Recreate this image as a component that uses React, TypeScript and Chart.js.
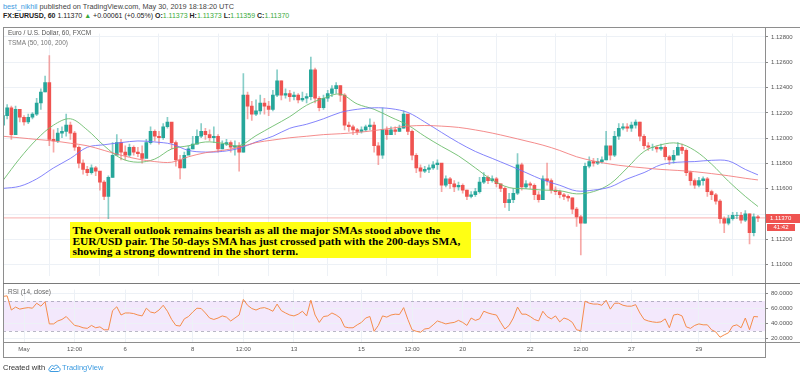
import React, { useEffect, useRef } from "react";
import { Chart, registerables } from "chart.js";
Chart.register(...registerables);

// ---- time axis (trading hours from May 1 00:00, weekends removed) ----
const FIRST_HOUR = -15;
const BAR_HOURS = 3;
const X_MIN = -14.94;
const X_MAX = 527;
const tickHours = [0, 36, 72, 120, 156, 192, 240, 276, 312, 360, 396, 432, 480];
const tickLabels = ["May", "12:00", "6", "8", "12:00", "13", "15", "12:00", "20", "22", "12:00", "27", "29"];

// ---- price data (3-hour candles) ----
const firstOpen = 1.12103;
const closes = [
  1.12178, 1.1224, 1.12028, 1.12228, 1.12165, 1.12128, 1.12165, 1.1219, 1.12278, 1.12365,
  1.1244, 1.1199, 1.11978, 1.1204, 1.12053, 1.12103, 1.1204, 1.11928, 1.11803, 1.11753,
  1.11728, 1.11765, 1.1174, 1.11653, 1.1154, 1.1169, 1.11865, 1.11965, 1.1189, 1.11865,
  1.11928, 1.1189, 1.11878, 1.1184, 1.11965, 1.12053, 1.12015, 1.12003, 1.1209, 1.12128,
  1.11965, 1.11828, 1.11765, 1.11865, 1.11915, 1.11953, 1.12015, 1.12053, 1.12028, 1.12003,
  1.12015, 1.11915, 1.11953, 1.11965, 1.11928, 1.1194, 1.1189, 1.1234, 1.12253, 1.1219,
  1.12215, 1.12278, 1.12253, 1.12228, 1.1234, 1.12453, 1.1234, 1.12353, 1.12328, 1.1234,
  1.12303, 1.12315, 1.12328, 1.1254, 1.12315, 1.1224, 1.12315, 1.12353, 1.1239, 1.12415,
  1.1234, 1.12103, 1.1209, 1.12065, 1.12053, 1.12065, 1.1209, 1.12103, 1.1194, 1.11865,
  1.12065, 1.12028, 1.12065, 1.12053, 1.12078, 1.1219, 1.12053, 1.11865, 1.11765, 1.1174,
  1.11753, 1.11765, 1.1179, 1.11803, 1.11628, 1.11678, 1.1164, 1.11615, 1.11628, 1.1159,
  1.1154, 1.11553, 1.11578, 1.11653, 1.1169, 1.11665, 1.11678, 1.1164, 1.11603, 1.1149,
  1.11515, 1.11565, 1.1179, 1.11615, 1.1164, 1.11628, 1.11553, 1.11515, 1.11678, 1.11665,
  1.1159, 1.11578, 1.11553, 1.1154, 1.11528, 1.1144, 1.11378, 1.11328, 1.11778, 1.11815,
  1.11803, 1.11815, 1.11828, 1.1194, 1.11865, 1.12015, 1.12078, 1.1209, 1.12078, 1.12103,
  1.12128, 1.12015, 1.1194, 1.11928, 1.11928, 1.11915, 1.11928, 1.11853, 1.11828, 1.11865,
  1.11928, 1.11903, 1.11728, 1.11665, 1.11628, 1.11665, 1.11678, 1.11578, 1.11553, 1.11503,
  1.11365, 1.11328, 1.11365, 1.1139, 1.1139, 1.11353, 1.11403, 1.11253, 1.11378, 1.1137,
];
const highs = [
  1.12203, 1.12265, 1.12253, 1.12253, 1.12203, 1.12178, 1.1219, 1.12203, 1.12315, 1.1239,
  1.1249, 1.12653, 1.12065, 1.12078, 1.1209, 1.1219, 1.12128, 1.12053, 1.1194, 1.11828,
  1.11778, 1.1179, 1.11778, 1.11728, 1.11665, 1.11703, 1.11965, 1.12028, 1.1199, 1.1194,
  1.11953, 1.1194, 1.11928, 1.1194, 1.1199, 1.1209, 1.12065, 1.12053, 1.12115, 1.12165,
  1.12115, 1.11978, 1.11865, 1.1189, 1.1194, 1.12015, 1.12065, 1.12115, 1.12078, 1.12065,
  1.1209, 1.12028, 1.11978, 1.1199, 1.11978, 1.11978, 1.11965, 1.1251, 1.12365, 1.1229,
  1.12303, 1.1234, 1.12315, 1.1229, 1.12378, 1.1254, 1.12453, 1.1239, 1.12378, 1.12365,
  1.12353, 1.12365, 1.12353, 1.1264, 1.12553, 1.12328, 1.1234, 1.12378, 1.12415, 1.1244,
  1.12415, 1.12353, 1.12128, 1.12103, 1.12078, 1.1209, 1.12103, 1.12153, 1.12128, 1.11965,
  1.1224, 1.1209, 1.1209, 1.1209, 1.12103, 1.12215, 1.12178, 1.12065, 1.11878, 1.1179,
  1.11778, 1.1179, 1.11815, 1.11828, 1.1179, 1.11703, 1.1169, 1.11665, 1.11653, 1.1164,
  1.1159, 1.11578, 1.11603, 1.1169, 1.11728, 1.11703, 1.11703, 1.1169, 1.1164, 1.11615,
  1.11565, 1.11603, 1.11878, 1.11803, 1.11665, 1.11653, 1.1164, 1.11578, 1.11703, 1.11803,
  1.11678, 1.11615, 1.1159, 1.11565, 1.11553, 1.11528, 1.11453, 1.1139, 1.11803, 1.11853,
  1.1184, 1.1184, 1.11853, 1.12053, 1.11928, 1.12053, 1.12115, 1.12115, 1.12115, 1.12128,
  1.12145, 1.12128, 1.12028, 1.11965, 1.11953, 1.1194, 1.11953, 1.1194, 1.11865, 1.11903,
  1.11965, 1.11953, 1.11915, 1.1174, 1.11678, 1.1169, 1.11695, 1.1169, 1.1159, 1.11565,
  1.11515, 1.11378, 1.1139, 1.11415, 1.11415, 1.11415, 1.11428, 1.11403, 1.11403, 1.1139,
];
const lows = [
  1.1209, 1.12153, 1.1199, 1.12028, 1.12128, 1.12103, 1.12115, 1.12153, 1.12178, 1.12228,
  1.12365, 1.1194, 1.1189, 1.11965, 1.12003, 1.12015, 1.1199, 1.11903, 1.11765, 1.11715,
  1.11703, 1.11715, 1.11703, 1.1159, 1.11515, 1.11365, 1.1169, 1.11865, 1.11828, 1.11828,
  1.11853, 1.11865, 1.11853, 1.11803, 1.11865, 1.11953, 1.11978, 1.11953, 1.1199, 1.12078,
  1.11915, 1.11778, 1.11678, 1.11765, 1.11878, 1.11915, 1.11953, 1.12003, 1.1199, 1.11978,
  1.11965, 1.1189, 1.11915, 1.1194, 1.1189, 1.11865, 1.1174, 1.1189, 1.12153, 1.1214,
  1.12178, 1.1219, 1.1219, 1.12178, 1.12215, 1.12328, 1.12303, 1.12315, 1.1229, 1.12303,
  1.12278, 1.1229, 1.12278, 1.12303, 1.12278, 1.12215, 1.12228, 1.1229, 1.12328, 1.12353,
  1.1229, 1.12065, 1.12053, 1.12028, 1.12028, 1.1204, 1.12053, 1.12065, 1.1189, 1.1179,
  1.1184, 1.1199, 1.12028, 1.12028, 1.12053, 1.12078, 1.12028, 1.11828, 1.11728, 1.1169,
  1.11728, 1.11728, 1.11753, 1.11753, 1.11578, 1.11615, 1.11603, 1.11578, 1.1159, 1.11565,
  1.11515, 1.11528, 1.1154, 1.11565, 1.1164, 1.1164, 1.11653, 1.11615, 1.11578, 1.11453,
  1.11428, 1.1149, 1.11553, 1.1159, 1.11603, 1.11603, 1.11515, 1.11495, 1.11515, 1.11628,
  1.11565, 1.11553, 1.11528, 1.11515, 1.11503, 1.11403, 1.11303, 1.11078, 1.11328, 1.11765,
  1.11778, 1.1179, 1.11803, 1.11828, 1.11828, 1.11853, 1.1199, 1.12065, 1.12053, 1.12053,
  1.12078, 1.11978, 1.11915, 1.11903, 1.11903, 1.1189, 1.11903, 1.11828, 1.1179, 1.11803,
  1.1189, 1.11878, 1.11703, 1.11628, 1.11603, 1.11615, 1.11628, 1.1154, 1.11515, 1.11478,
  1.11328, 1.11253, 1.11315, 1.11353, 1.11365, 1.11328, 1.1134, 1.11165, 1.11228, 1.1134,
];

// ---- SMA lines (sampled every 4th candle + last) ----
const sma50 = [
  1.11665, 1.1184, 1.1199, 1.12103, 1.12153, 1.12065, 1.1194, 1.1184, 1.1181, 1.11835,
  1.11915, 1.1194, 1.1197, 1.1196, 1.1194, 1.1202, 1.12095, 1.1217, 1.1226, 1.12315,
  1.12348, 1.1227, 1.12228, 1.12165, 1.12103, 1.12015, 1.11935, 1.1186, 1.11765, 1.1167,
  1.1161, 1.116, 1.1159, 1.11585, 1.1156, 1.11578, 1.1164, 1.11765, 1.11895, 1.11948,
  1.1196, 1.11903, 1.11795, 1.1166, 1.1154, 1.1146,
];
const sma100 = [
  1.11603, 1.1162, 1.11678, 1.11765, 1.1184, 1.11928, 1.11948, 1.11965, 1.11978, 1.1197,
  1.11953, 1.11903, 1.1189, 1.11895, 1.1192, 1.1197, 1.12015, 1.12078, 1.1211, 1.12153,
  1.12203, 1.12228, 1.1224, 1.12233, 1.12203, 1.12128, 1.12045, 1.11965, 1.11895, 1.1184,
  1.11785, 1.11728, 1.1167, 1.11628, 1.11583, 1.1159, 1.11615, 1.11678, 1.11728, 1.1179,
  1.1181, 1.11815, 1.11825, 1.1182, 1.11753, 1.1171,
];
const sma200 = [
  1.12015, 1.12003, 1.1199, 1.11978, 1.1196, 1.1194, 1.11903, 1.11865, 1.11835, 1.11815,
  1.1181, 1.11853, 1.11885, 1.11903, 1.11928, 1.11965, 1.11985, 1.12003, 1.12015, 1.12028,
  1.12035, 1.12045, 1.1206, 1.12078, 1.12095, 1.121, 1.12095, 1.12085, 1.12065, 1.1204,
  1.1201, 1.11978, 1.11945, 1.11903, 1.11853, 1.1182, 1.11795, 1.11778, 1.11765, 1.11753,
  1.11745, 1.11735, 1.1172, 1.11703, 1.11683, 1.1167,
];

// ---- RSI (14, close) ----
const rsi14 = [
  76.0, 76.8, 58.0, 61.9, 59.2, 60.4, 61.2, 60.4, 67.0, 63.1,
  69.0, 39.6, 39.6, 43.5, 45.5, 49.4, 43.5, 37.6, 36.5, 34.5,
  33.7, 37.6, 34.5, 35.7, 31.8, 31.8, 57.2, 62.3, 51.4, 54.1,
  54.1, 53.3, 51.4, 50.2, 60.4, 55.3, 54.1, 58.0, 64.3, 56.4,
  45.5, 37.6, 36.8, 46.3, 49.4, 55.3, 60.4, 60.0, 54.1, 47.4,
  45.5, 47.4, 50.2, 48.6, 43.5, 47.4, 51.4, 72.1, 64.3, 60.0,
  58.0, 60.4, 61.2, 59.2, 56.4, 65.9, 57.2, 54.1, 51.4, 50.2,
  52.5, 56.4, 50.2, 71.0, 51.4, 41.6, 49.4, 50.2, 54.1, 51.4,
  47.4, 35.7, 34.5, 34.5, 38.4, 41.6, 47.4, 49.4, 29.8, 37.6,
  50.2, 48.6, 51.4, 52.5, 52.1, 61.2, 45.5, 31.8, 29.8, 28.6,
  32.9, 33.7, 38.4, 43.5, 41.6, 39.6, 40.8, 41.6, 44.3, 41.6,
  37.6, 47.4, 44.3, 46.3, 56.4, 54.1, 52.5, 51.4, 41.6, 32.9,
  37.6, 47.4, 61.9, 52.5, 52.5, 49.4, 45.5, 43.5, 56.4, 49.4,
  46.3, 50.2, 42.3, 47.4, 45.5, 41.6, 31.8, 30.6, 69.8, 67.0,
  65.9, 65.9, 64.3, 71.0, 59.2, 67.0, 67.0, 64.3, 63.1, 63.1,
  65.1, 54.1, 45.5, 43.5, 42.3, 41.6, 42.3, 46.3, 34.5, 51.4,
  52.5, 50.2, 35.7, 33.7, 37.6, 39.6, 38.4, 38.4, 31.8, 29.0,
  22.0, 25.1, 27.8, 36.8, 38.4, 34.5, 47.4, 31.8, 49.4, 49.0,
];

const priceTicks = [1.11, 1.112, 1.114, 1.116, 1.118, 1.12, 1.122, 1.124, 1.126, 1.128];
const rsiTicks = [20, 40, 60, 80];
const PRICE_MIN = 1.10908;
const PRICE_MAX = 1.12826;
const RSI_MIN = 15.65;
const RSI_MAX = 85.06;
const RSI_UPPER = 70;
const RSI_LOWER = 30;
const countdown = "41:42";

const FONT = '"Liberation Sans", Arial, sans-serif';
const GRID = "#edf1f6";
const FRAME = "#8e8e8e";
const UP = "#26a69a";
const DOWN = "#ef5350";

export default function App() {
  const mainRef = useRef<HTMLCanvasElement | null>(null);
  const rsiRef = useRef<HTMLCanvasElement | null>(null);

  useEffect(() => {
    const candleHours = closes.map((_, i) => FIRST_HOUR + BAR_HOURS * i);
    const opens = closes.map((_, i) => (i === 0 ? firstOpen : closes[i - 1]));
    const smaHours = sma50.map((_, j) =>
      j < sma50.length - 1 ? candleHours[4 * j] : candleHours[candleHours.length - 1]
    );
    const isUp = closes.map((c, i) => c >= opens[i]);
    const last = closes[closes.length - 1];

    const xTicksCb = (axis: any) => {
      axis.ticks = tickHours.map((v) => ({ value: v }));
    };

    const lastPricePlugin = {
      id: "lastPrice",
      afterDraw(chart: any) {
        const { ctx, chartArea, scales } = chart;
        const y = Math.round(scales.y.getPixelForValue(last));
        const x0 = chartArea.right;
        ctx.save();
        ctx.fillStyle = DOWN;
        ctx.fillRect(x0 + 1, y - 4, 34, 9);
        ctx.fillRect(x0 + 2, y + 6, 28, 7);
        ctx.fillStyle = "#ffffff";
        ctx.font = `6px ${FONT}`;
        ctx.textBaseline = "middle";
        ctx.textAlign = "left";
        ctx.fillText(last.toFixed(5), x0 + 5, y + 0.5);
        ctx.textAlign = "center";
        ctx.fillText(countdown, x0 + 16, y + 9.5);
        ctx.restore();
      },
    };

    const main = new Chart(mainRef.current as HTMLCanvasElement, {
      type: "bar",
      data: {
        datasets: [
          {
            type: "line",
            data: [
              { x: X_MIN, y: last },
              { x: X_MAX, y: last },
            ],
            borderColor: "rgba(239,83,80,0.45)",
            borderWidth: 1,
            pointRadius: 0,
            order: 5,
          } as any,
          {
            type: "line",
            data: smaHours.map((h, i) => ({ x: h, y: sma200[i] })),
            borderColor: "rgba(242,120,120,0.85)",
            borderWidth: 1,
            pointRadius: 0,
            tension: 0.35,
            order: 0,
          } as any,
          {
            type: "line",
            data: smaHours.map((h, i) => ({ x: h, y: sma100[i] })),
            borderColor: "rgba(110,110,250,0.85)",
            borderWidth: 1,
            pointRadius: 0,
            tension: 0.35,
            order: 0,
          } as any,
          {
            type: "line",
            data: smaHours.map((h, i) => ({ x: h, y: sma50[i] })),
            borderColor: "rgba(110,190,110,0.9)",
            borderWidth: 1,
            pointRadius: 0,
            tension: 0.35,
            order: 0,
          } as any,
          {
            type: "bar",
            data: candleHours.map((h, i) => ({ x: h, y: [lows[i], highs[i]] })),
            backgroundColor: isUp.map((u) => (u ? "rgba(38,166,154,0.55)" : "rgba(239,83,80,0.5)")),
            barThickness: 1,
            grouped: false,
            borderWidth: 0,
            order: 3,
          } as any,
          {
            type: "bar",
            data: candleHours.map((h, i) => ({ x: h, y: [opens[i], closes[i]] })),
            backgroundColor: isUp.map((u) => (u ? UP : DOWN)),
            barThickness: 3,
            grouped: false,
            borderWidth: 0,
            order: 2,
          } as any,
        ],
      },
      options: {
        animation: false,
        responsive: false,
        maintainAspectRatio: false,
        layout: { padding: 0 },
        plugins: { legend: { display: false }, tooltip: { enabled: false } },
        scales: {
          x: {
            type: "linear",
            min: X_MIN,
            max: X_MAX,
            offset: false,
            afterBuildTicks: xTicksCb,
            ticks: { display: false },
            grid: { color: GRID, drawTicks: false },
            border: { display: false },
            afterFit: (axis: any) => {
              axis.height = 0;
            },
          },
          y: {
            position: "right",
            min: PRICE_MIN,
            max: PRICE_MAX,
            afterBuildTicks: (axis: any) => {
              axis.ticks = priceTicks.map((v) => ({ value: v }));
            },
            ticks: {
              callback: (v: any) => (Math.abs(Number(v) - last) < 0.0006 ? "" : Number(v).toFixed(5)),
              font: { size: 6, family: FONT },
              color: "#555",
              padding: 3,
            },
            grid: { color: GRID, tickLength: 3, tickColor: "#888" },
            border: { display: false },
            afterFit: (axis: any) => {
              axis.width = 35;
            },
          },
        },
      } as any,
      plugins: [lastPricePlugin],
    });

    const rsiBand = {
      id: "rsiBand",
      beforeDraw(chart: any) {
        const { ctx, chartArea, scales } = chart;
        const yU = scales.y.getPixelForValue(RSI_UPPER);
        const yL = scales.y.getPixelForValue(RSI_LOWER);
        ctx.save();
        ctx.fillStyle = "#f3e8fc";
        ctx.fillRect(chartArea.left, yU, chartArea.right - chartArea.left, yL - yU);
        ctx.restore();
      },
      beforeDatasetsDraw(chart: any) {
        const { ctx, chartArea, scales } = chart;
        ctx.save();
        ctx.strokeStyle = "rgba(140,140,160,0.6)";
        ctx.lineWidth = 1;
        ctx.setLineDash([3, 3]);
        [RSI_UPPER, RSI_LOWER].forEach((v) => {
          const y = Math.round(scales.y.getPixelForValue(v)) + 0.5;
          ctx.beginPath();
          ctx.moveTo(chartArea.left, y);
          ctx.lineTo(chartArea.right, y);
          ctx.stroke();
        });
        ctx.restore();
      },
    };

    const rsiChart = new Chart(rsiRef.current as HTMLCanvasElement, {
      type: "line",
      data: {
        datasets: [
          {
            data: candleHours.map((h, i) => ({ x: h, y: rsi14[i] })),
            borderColor: "#f58c4c",
            borderWidth: 1,
            pointRadius: 0,
            tension: 0,
          },
        ],
      },
      options: {
        animation: false,
        responsive: false,
        maintainAspectRatio: false,
        layout: { padding: 0 },
        plugins: { legend: { display: false }, tooltip: { enabled: false } },
        scales: {
          x: {
            type: "linear",
            min: X_MIN,
            max: X_MAX,
            afterBuildTicks: xTicksCb,
            ticks: {
              autoSkip: false,
              maxRotation: 0,
              minRotation: 0,
              padding: 4,
              font: { size: 6, family: FONT },
              color: "#555",
              callback: (v: any) => {
                const i = tickHours.indexOf(Number(v));
                return i >= 0 ? tickLabels[i] : "";
              },
            },
            grid: { color: GRID, drawTicks: false },
            border: { display: false },
            afterFit: (axis: any) => {
              axis.height = 15;
            },
          },
          y: {
            position: "right",
            min: RSI_MIN,
            max: RSI_MAX,
            afterBuildTicks: (axis: any) => {
              axis.ticks = rsiTicks.map((v) => ({ value: v }));
            },
            ticks: {
              callback: (v: any) => Number(v).toFixed(4),
              font: { size: 6, family: FONT },
              color: "#555",
              padding: 3,
            },
            grid: { color: GRID, tickLength: 3, tickColor: "#888" },
            border: { display: false },
            afterFit: (axis: any) => {
              axis.width = 35;
            },
          },
        },
      } as any,
      plugins: [rsiBand],
    });

    return () => {
      main.destroy();
      rsiChart.destroy();
    };
  }, []);

  const line = (l: number, t: number, w: number, h: number, c = FRAME) => (
    <div style={{ position: "absolute", left: l, top: t, width: w, height: h, background: c }} />
  );
  const green = "#3aaa3a";

  return (
    <div
      style={{
        position: "absolute",
        left: 0,
        top: 0,
        width: 800,
        height: 378,
        background: "#fff",
        fontFamily: FONT,
        overflow: "hidden",
      }}
    >
      <div style={{ position: "absolute", left: 3, top: 2, fontSize: 7.3, lineHeight: "9px", color: "#444", whiteSpace: "nowrap" }}>
        <span style={{ color: "#3d9be0" }}>best_nikhil</span> published on TradingView.com, May 30, 2019 18:18:20 UTC
      </div>
      <div style={{ position: "absolute", left: 3, top: 11, fontSize: 7, lineHeight: "9px", color: "#222", whiteSpace: "nowrap" }}>
        <b>FX:EURUSD, 60</b> 1.11370 <span style={{ color: green }}>▲</span> +0.00061 (+0.05%) <b>O:</b>
        <span style={{ color: green }}>1.11373</span> <b>H:</b>
        <span style={{ color: green }}>1.11373</span> <b>L:</b>
        <span style={{ color: green }}>1.11359</span> <b>C:</b>
        <span style={{ color: green }}>1.11370</span>
      </div>

      <canvas ref={mainRef} width={797} height={256} style={{ position: "absolute", left: 3, top: 27, width: 797, height: 256 }} />
      <canvas ref={rsiRef} width={797} height={74} style={{ position: "absolute", left: 3, top: 283, width: 797, height: 74 }} />

      <div style={{ position: "absolute", left: 8, top: 29, fontSize: 6.5, lineHeight: "8px", color: "#555", whiteSpace: "nowrap" }}>
        Euro / U.S. Dollar, 60, FXCM
      </div>
      <div style={{ position: "absolute", left: 8, top: 39, fontSize: 6.5, lineHeight: "8px", color: "#777", whiteSpace: "nowrap" }}>
        TSMA (50, 100, 200)
      </div>
      <div style={{ position: "absolute", left: 8, top: 288, fontSize: 6.5, lineHeight: "8px", color: "#666", whiteSpace: "nowrap" }}>
        RSI (14, close)
      </div>

      <div
        style={{
          position: "absolute",
          left: 70,
          top: 222,
          width: 401,
          height: 36,
          background: "#ffff14",
          fontFamily: '"Liberation Serif", "Times New Roman", serif',
          fontWeight: "bold",
          fontSize: 11.4,
          lineHeight: "10.5px",
          color: "#000",
          padding: "3px 0 0 2.5px",
          boxSizing: "border-box",
          whiteSpace: "nowrap",
        }}
      >
        The Overall outlook remains bearish as all the major SMAs stood above the
        <br />
        EUR/USD pair. The 50-days SMA has just crossed path with the 200-days SMA,
        <br />
        showing a strong downtrend in the short term.
      </div>

      {line(3, 27, 797, 1)}
      {line(3, 27, 1, 331)}
      {line(765, 27, 1, 331)}
      {line(3, 283, 797, 1, "#7a7a7a")}
      {line(3, 342, 797, 1)}
      {line(3, 357, 763, 1)}

      <div style={{ position: "absolute", left: 3, top: 363, fontSize: 7.5, lineHeight: "10px", color: "#333", whiteSpace: "nowrap", display: "flex", alignItems: "center" }}>
        <span>Created with</span>
        <svg width="13" height="8" viewBox="0 0 26 16" style={{ margin: "0 1px 0 3px" }}>
          <path d="M6 15 C1 15 0 9 4 8 C4 3 10 2 12 5 C14 1 21 2 21 7 C25 7 26 14 21 15 Z" fill="none" stroke="#3d9be0" strokeWidth="2" />
          <path d="M5 13 L10 8 L14 11 L20 5" fill="none" stroke="#3d9be0" strokeWidth="2" />
        </svg>
        <span style={{ color: "#3d9be0" }}>TradingView</span>
      </div>
    </div>
  );
}
